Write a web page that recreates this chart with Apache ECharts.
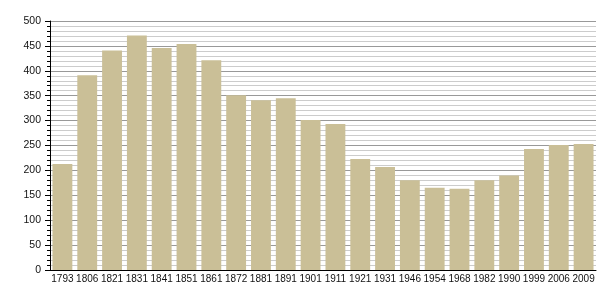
<!DOCTYPE html>
<html>
<head>
<meta charset="utf-8">
<script src="https://cdn.jsdelivr.net/npm/echarts@6/dist/echarts.min.js"></script>
<style>html,body{margin:0;padding:0;background:#fff}#c{width:605px;height:300px}</style>
</head>
<body>
<div id="c"></div>
<script>
const years = ['1793','1806','1821','1831','1841','1851','1861','1872','1881','1891','1901','1911','1921','1931','1946','1954','1968','1982','1990','1999','2006','2009'];
const population = [213,391,441,471,446,454,421,351,341,345,301,293,223,207,180,165,163,180,190,243,251,253];
const yTicks = {min: 0, max: 500, interval: 50};

const chart = echarts.init(document.getElementById('c'), null, {renderer: 'canvas'});
chart.setOption({
  animation: false,
  grid: {left: 50, right: 9, top: 21, bottom: 30},
  xAxis: {
    type: 'category',
    data: years,
    axisLine: {lineStyle: {color: '#000', width: 1}},
    axisTick: {show: false},
    axisLabel: {interval: 0, margin: 4, color: '#111', fontSize: 10, fontFamily: 'Liberation Sans, Arial, sans-serif'}
  },
  yAxis: {
    type: 'value',
    min: yTicks.min, max: yTicks.max, interval: yTicks.interval,
    axisLine: {show: true, lineStyle: {color: '#000', width: 1}},
    axisTick: {show: true, length: 5, lineStyle: {color: '#000'}},
    minorTick: {show: true, splitNumber: 5, length: 3, lineStyle: {color: '#000'}},
    splitLine: {show: true, lineStyle: {color: '#999', width: 1}},
    minorSplitLine: {show: true, lineStyle: {color: '#ccc', width: 1}},
    axisLabel: {margin: 9, color: '#111', fontSize: 10.5, fontFamily: 'Liberation Sans, Arial, sans-serif'}
  },
  series: [{
    type: 'bar',
    data: population,
    barCategoryGap: '20%',
    itemStyle: {color: '#cabf97'}
  }]
});
</script>
</body>
</html>
